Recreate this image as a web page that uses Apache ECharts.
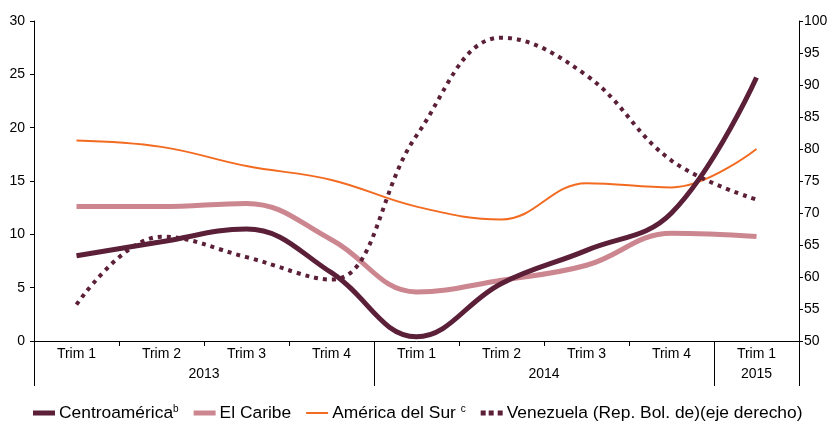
<!DOCTYPE html>
<html><head><meta charset="utf-8">
<script src="https://cdn.jsdelivr.net/npm/echarts@6/dist/echarts.min.js"></script>
<style>html,body{margin:0;padding:0;background:#fff}#c{width:831px;height:422px}</style>
</head><body><div id="c"></div>
<script>
const categories = ['Trim 1','Trim 2','Trim 3','Trim 4','Trim 1','Trim 2','Trim 3','Trim 4','Trim 1'];
const years = ['2013','2014','2015'];
const yearCenters = [2, 6, 8.5];
const yearBounds = [0, 4, 8, 9];
const centroamerica = [8.0, 9.3, 10.5, 6.4, 0.4, 5.4, 8.5, 12.0, 24.7];
const caribe = [12.6, 12.6, 12.9, 9.5, 4.6, 5.7, 7.1, 10.1, 9.8];
const sur = [18.8, 18.2, 16.4, 15.1, 12.6, 11.4, 14.8, 14.4, 18.0];
const venezuela = [55.7, 66.3, 63.1, 59.6, 82.1, 97.4, 91.5, 78.2, 72.1];
const names = ['Centroamérica', 'El Caribe', 'América del Sur', 'Venezuela (Rep. Bol. de)(eje derecho)'];
const sups = {'Centroamérica': '{sup|b}', 'América del Sur': ' {sup|c}'};

const FONT = 'Liberation Sans, Arial, sans-serif';
const DARK = '#5b1f38', PINK = '#cc8690', ORANGE = '#f26b21';
const chart = echarts.init(document.getElementById('c'), null, {renderer: 'canvas'});
const axisLine = {show: true, lineStyle: {color: '#000', width: 1}};
const icons = [
  'path://M0,0h22v5h-22z',
  'path://M0,0h22v5h-22z',
  'path://M0,0h22v2h-22z',
  'path://M0,0h5v5h-5zM8,0h5v5h-5zM17,0h5v5h-5z'
];
chart.setOption({
  animation: false,
  textStyle: {fontFamily: FONT},
  grid: {left: 34, right: 32, top: 21, bottom: 81, containLabel: false},
  legend: {
    top: 404, left: 33, itemWidth: 22, itemHeight: 6, itemGap: 15, padding: 0,
    textStyle: {fontFamily: FONT, fontSize: 17.4, color: '#000', padding: [0, 0, 0, -1],
      rich: {sup: {fontSize: 10, padding: [0, 0, 8, 0], fontFamily: FONT, color: '#000'}}},
    formatter: n => sups[n] ? n + sups[n] : n,
    data: names.map((n, i) => ({name: n, icon: icons[i]}))
  },
  xAxis: [
    {type: 'category', data: categories, boundaryGap: true, axisLine: axisLine,
     axisTick: {show: true, length: 5, interval: 0, lineStyle: {color: '#000'}},
     axisLabel: {fontSize: 14, color: '#000', margin: 6, interval: 0, fontFamily: FONT}},
    {type: 'value', min: 0, max: 9, position: 'bottom', axisLine: {show: false}, splitLine: {show: false},
     axisTick: {show: true, customValues: yearBounds, length: 45, lineStyle: {color: '#000'}},
     axisLabel: {show: true, customValues: yearCenters, fontSize: 14, color: '#000', margin: 26, fontFamily: FONT,
       formatter: v => years[yearCenters.indexOf(v)]}}
  ],
  yAxis: [
    {type: 'value', min: 0, max: 30, interval: 5, position: 'left', axisLine: axisLine,
     axisTick: {show: true, length: 4, lineStyle: {color: '#000'}}, splitLine: {show: false},
     axisLabel: {fontSize: 14, color: '#000', margin: 9, fontFamily: FONT}},
    {type: 'value', min: 50, max: 100, interval: 5, position: 'right', axisLine: axisLine,
     axisTick: {show: true, length: 4, lineStyle: {color: '#000'}}, splitLine: {show: false},
     axisLabel: {fontSize: 14, color: '#000', margin: 5, fontFamily: FONT}}
  ],
  series: [
    {name: names[0], type: 'line', data: centroamerica, smooth: 0.4, symbol: 'none', yAxisIndex: 0, z: 4,
     lineStyle: {color: DARK, width: 5}, itemStyle: {color: DARK}},
    {name: names[1], type: 'line', data: caribe, smooth: 0.4, symbol: 'none', yAxisIndex: 0, z: 3,
     lineStyle: {color: PINK, width: 5}, itemStyle: {color: PINK}},
    {name: names[2], type: 'line', data: sur, smooth: 0.4, symbol: 'none', yAxisIndex: 0, z: 2,
     lineStyle: {color: ORANGE, width: 2}, itemStyle: {color: ORANGE}},
    {name: names[3], type: 'line', data: venezuela, smooth: 0.4, symbol: 'none', yAxisIndex: 1, z: 5,
     lineStyle: {color: DARK, width: 4, type: [4, 5]}, itemStyle: {color: DARK}}
  ]
});
</script></body></html>
